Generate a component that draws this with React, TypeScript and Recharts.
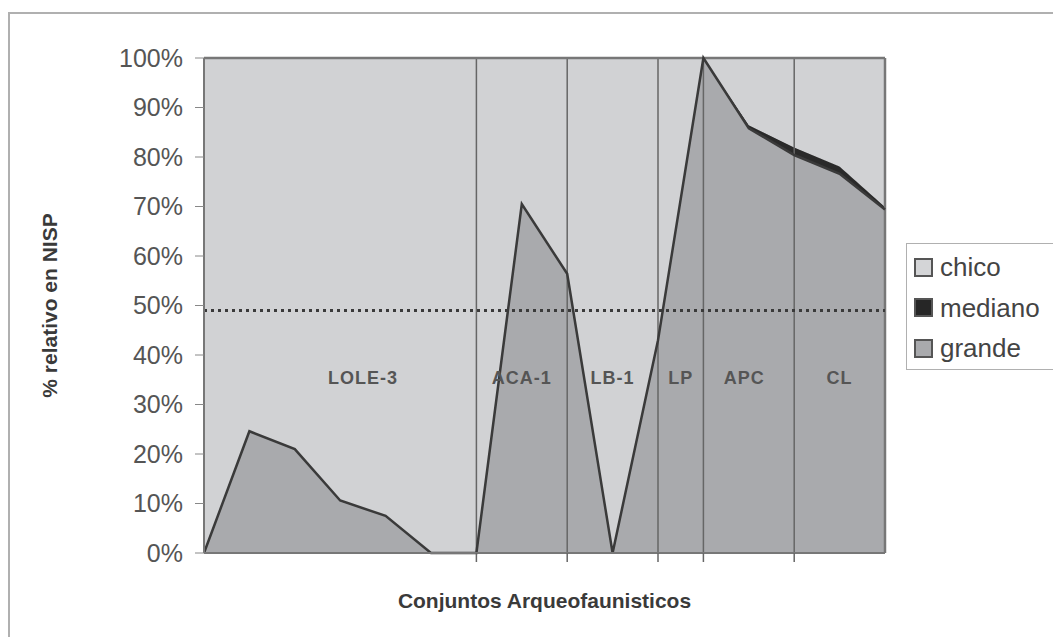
import {
  ComposedChart,
  Area,
  Line,
  XAxis,
  YAxis,
  ReferenceLine,
  ReferenceDot,
} from "recharts";

// 16 sampled points along the x axis (site sequence)
const positions = [0, 1, 2, 3, 4, 5, 6, 7, 8, 9, 10, 11, 12, 13, 14, 15];
const grande = [0, 24.6, 21, 10.6, 7.5, 0, 0, 70.5, 56.4, 0, 43, 100, 85.8, 80.4, 76.6, 69.4];
const mediano = [0, 0, 0, 0, 0, 0, 0, 0, 0, 0, 0, 0, 0.6, 1.5, 1.5, 0.5];
const chico = [100, 75.4, 79, 89.4, 92.5, 100, 100, 29.5, 43.6, 100, 57, 0, 13.6, 18.1, 21.9, 30.1];

const yTicks = [0, 10, 20, 30, 40, 50, 60, 70, 80, 90, 100];
const groupBounds = [6, 8, 10, 11, 13];
const groupNames = ["LOLE-3", "ACA-1", "LB-1", "LP", "APC", "CL"];
const groupCenters = [3.5, 7, 9, 10.5, 11.9, 14];
const threshold = 49;

const legendItems = [
  { name: "chico", color: "#d4d5d7" },
  { name: "mediano", color: "#262626" },
  { name: "grande", color: "#a9aaad" },
];

const data = positions.map((p, i) => ({
  pos: p,
  grande: grande[i],
  mediano: mediano[i],
  chico: chico[i],
}));

const font = "'Liberation Sans', Arial, sans-serif";

export default function App() {
  return (
    <div
      style={{
        position: "absolute",
        left: 0,
        top: 0,
        width: 1053,
        height: 637,
        background: "#fff",
        overflow: "hidden",
        fontFamily: font,
      }}
    >
      <div
        style={{
          position: "absolute",
          left: 8,
          top: 12,
          width: 1080,
          height: 700,
          border: "2px solid #b0b0b0",
        }}
      />
      <div style={{ position: "absolute", left: 0, top: 0 }}>
        <ComposedChart
          width={1053}
          height={637}
          data={data}
          margin={{ top: 58, right: 168, bottom: 0, left: 0 }}
        >
          <XAxis
            dataKey="pos"
            type="number"
            domain={[0, 15]}
            ticks={groupBounds}
            tickFormatter={() => ""}
            tickSize={9}
            height={84}
            axisLine={{ stroke: "#777", strokeWidth: 2 }}
            tickLine={{ stroke: "#666", strokeWidth: 1.5 }}
            label={{
              value: "Conjuntos Arqueofaunisticos",
              position: "insideBottom",
              offset: 29,
              style: { fontFamily: font, fontSize: 21, fontWeight: "bold", fill: "#3a3a3a" },
            }}
          />
          <YAxis
            type="number"
            domain={[0, 100]}
            ticks={yTicks}
            width={204}
            tickSize={9}
            tickMargin={12}
            tickFormatter={(v) => `${v}%`}
            tick={{ fontFamily: font, fontSize: 25, fill: "#555" }}
            axisLine={{ stroke: "#777", strokeWidth: 2 }}
            tickLine={{ stroke: "#888", strokeWidth: 1 }}
            label={{
              value: "% relativo en NISP",
              angle: -90,
              position: "insideLeft",
              offset: 50,
              style: {
                fontFamily: font,
                fontSize: 21,
                fontWeight: "bold",
                fill: "#3a3a3a",
                textAnchor: "middle",
              },
            }}
          />
          <Area
            type="linear"
            dataKey="grande"
            stackId="a"
            fill="#a9aaad"
            fillOpacity={1}
            stroke="none"
            dot={false}
            activeDot={false}
            isAnimationActive={false}
          />
          <Area
            type="linear"
            dataKey="mediano"
            stackId="a"
            fill="#2a2a2a"
            fillOpacity={1}
            stroke="#2a2a2a"
            strokeWidth={1}
            dot={false}
            activeDot={false}
            isAnimationActive={false}
          />
          <Area
            type="linear"
            dataKey="chico"
            stackId="a"
            fill="#d1d2d4"
            fillOpacity={1}
            stroke="none"
            dot={false}
            activeDot={false}
            isAnimationActive={false}
          />
          {groupBounds.map((b) => (
            <ReferenceLine key={b} x={b} stroke="#666" strokeWidth={1.5} />
          ))}
          <ReferenceLine y={100} stroke="#777" strokeWidth={2.5} />
          <ReferenceLine x={15} stroke="#777" strokeWidth={2.5} />
          <Line
            type="linear"
            dataKey="grande"
            stroke="#3a3a3a"
            strokeWidth={2.5}
            dot={false}
            activeDot={false}
            legendType="none"
            isAnimationActive={false}
          />
          <ReferenceLine
            y={threshold}
            stroke="#3a3a3a"
            strokeWidth={3}
            strokeDasharray="3 4"
          />
          {groupNames.map((g, i) => (
            <ReferenceDot
              key={g}
              x={groupCenters[i]}
              y={35.5}
              r={0}
              fill="none"
              stroke="none"
              label={{
                value: g,
                position: "center",
                style: {
                  fontFamily: font,
                  fontSize: 18,
                  fontWeight: "bold",
                  fill: "#555",
                  letterSpacing: 1,
                },
              }}
            />
          ))}
        </ComposedChart>
      </div>
      <div
        style={{
          position: "absolute",
          left: 906,
          top: 243,
          width: 170,
          height: 125,
          border: "1.5px solid #b0b0b0",
          background: "#fff",
        }}
      >
        {legendItems.map((it, i) => (
          <div
            key={it.name}
            style={{
              position: "absolute",
              left: 7,
              top: 8 + i * 40.5,
              display: "flex",
              alignItems: "center",
              fontSize: 26,
              color: "#444",
              lineHeight: "30px",
            }}
          >
            <span
              style={{
                display: "inline-block",
                width: 15,
                height: 15,
                background: it.color,
                border: "2px solid #555",
                marginRight: 7,
              }}
            />
            {it.name}
          </div>
        ))}
      </div>
    </div>
  );
}
